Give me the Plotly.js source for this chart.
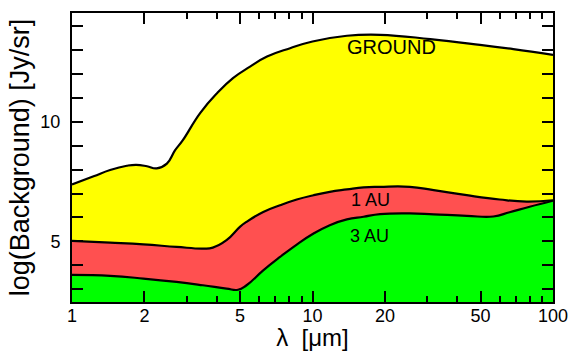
<!DOCTYPE html>
<html>
<head>
<meta charset="utf-8">
<script src="https://cdn.plot.ly/plotly-3.0.1.min.js"></script>
<style>html,body{margin:0;padding:0;background:#fff;}#chart{width:571px;height:351px;}</style>
</head>
<body>
<div id="chart"></div>
<script>
// Wavelength (micron) and log(background) values
const groundX = [1, 1.23, 1.44, 1.69, 1.85, 2.05, 2.25, 2.48, 2.68, 2.89, 3.41, 4.01, 4.67, 5.5, 6.47, 8.07, 10, 13.9, 19.1, 30.9, 49.7, 68.4, 100];
const groundY = [7.38, 7.72, 7.98, 8.16, 8.20, 8.14, 8.05, 8.25, 8.80, 9.23, 10.36, 11.19, 11.82, 12.30, 12.72, 13.07, 13.35, 13.59, 13.63, 13.45, 13.21, 13.03, 12.79];

const au1X = [1, 1.44, 1.98, 2.72, 3.5, 3.85, 4.39, 4.99, 5.32, 6.24, 7.33, 8.6, 10.1, 11.8, 13.9, 16.3, 19.1, 25.4, 31.9, 43.8, 60, 77.7, 100];
const au1Y = [5.02, 4.95, 4.88, 4.77, 4.70, 4.74, 5.05, 5.61, 5.82, 6.23, 6.51, 6.75, 6.93, 7.07, 7.17, 7.26, 7.28, 7.28, 7.14, 6.93, 6.75, 6.66, 6.72];

const au3X = [1, 1.44, 1.98, 2.72, 3.5, 4.39, 4.9, 5.32, 6.24, 7.33, 8.6, 10.1, 11.8, 13.9, 16.3, 19.1, 25.4, 31.9, 43.8, 56.5, 66, 80, 100];
const au3Y = [3.60, 3.56, 3.45, 3.31, 3.17, 3.03, 2.98, 3.17, 3.79, 4.35, 4.87, 5.33, 5.68, 5.92, 6.03, 6.14, 6.17, 6.13, 6.07, 6.04, 6.22, 6.45, 6.70];

const xMajorTicks = [1, 2, 5, 10, 20, 50, 100];
const xMajorLabels = ["1", "2", "5", "10", "20", "50", "100"];
const xMinorTicks = [3, 4, 6, 7, 8, 9, 30, 40, 60, 70, 80, 90];
const yTicks = [3, 4, 5, 6, 7, 8, 9, 10, 11, 12, 13, 14];
const yLabels = ["", "", "5", "", "", "", "", "10", "", "", "", ""];

const labelNames = ["GROUND", "1 AU", "3 AU"];

const font = "Liberation Sans, Arial, Helvetica, sans-serif";

function areaTrace(x, y, color) {
  return {
    x: x, y: y, type: "scatter", mode: "lines",
    line: {color: "#000", width: 2.2, shape: "spline", smoothing: 1.3},
    fill: "tozeroy", fillcolor: color, hoverinfo: "skip", showlegend: false
  };
}

const data = [
  areaTrace(groundX, groundY, "#FFFF00"),
  areaTrace(au1X, au1Y, "#FF5050"),
  areaTrace(au3X, au3Y, "#00FF00")
];

const layout = {
  width: 571, height: 351,
  margin: {l: 72, r: 18, t: 13, b: 49, pad: 0},
  paper_bgcolor: "#fff", plot_bgcolor: "#fff",
  font: {family: font, color: "#000", size: 18},
  showlegend: false,
  xaxis: {
    type: "log", range: [0, 2],
    tickmode: "array", tickvals: xMajorTicks, ticktext: xMajorLabels,
    ticks: "inside", ticklen: 11, tickwidth: 2, tickcolor: "#000",
    showline: true, linewidth: 2, linecolor: "#000", mirror: "ticks",
    showgrid: false, zeroline: false,
    tickfont: {size: 18, family: font},
    ticklabelstandoff: -4,
    minor: {tickmode: "array", tickvals: xMinorTicks, ticks: "inside", ticklen: 6, tickwidth: 2, tickcolor: "#000", showgrid: false},
    title: {text: "λ  [μm]", font: {size: 24, family: font}, standoff: 4}
  },
  yaxis: {
    range: [2.47, 14.54],
    tickmode: "array", tickvals: yTicks, ticktext: yLabels,
    ticks: "inside", ticklen: 11, tickwidth: 2, tickcolor: "#000",
    showline: true, linewidth: 2, linecolor: "#000", mirror: "ticks",
    showgrid: false, zeroline: false,
    tickfont: {size: 18, family: font},
    ticklabelstandoff: 6,
    title: {text: "log(Background) [Jy/sr]", font: {size: 27, family: font}, standoff: 3}
  },
  annotations: [
    {x: Math.log10(21.3), y: 13.10, text: labelNames[0], showarrow: false, font: {size: 20, family: font, color: "#000"}},
    {x: Math.log10(17.5), y: 6.72, text: labelNames[1], showarrow: false, font: {size: 18, family: font, color: "#000"}},
    {x: Math.log10(17.3), y: 5.24, text: labelNames[2], showarrow: false, font: {size: 18, family: font, color: "#000"}}
  ]
};

Plotly.newPlot("chart", data, layout, {displayModeBar: false, staticPlot: true});
</script>
</body>
</html>
